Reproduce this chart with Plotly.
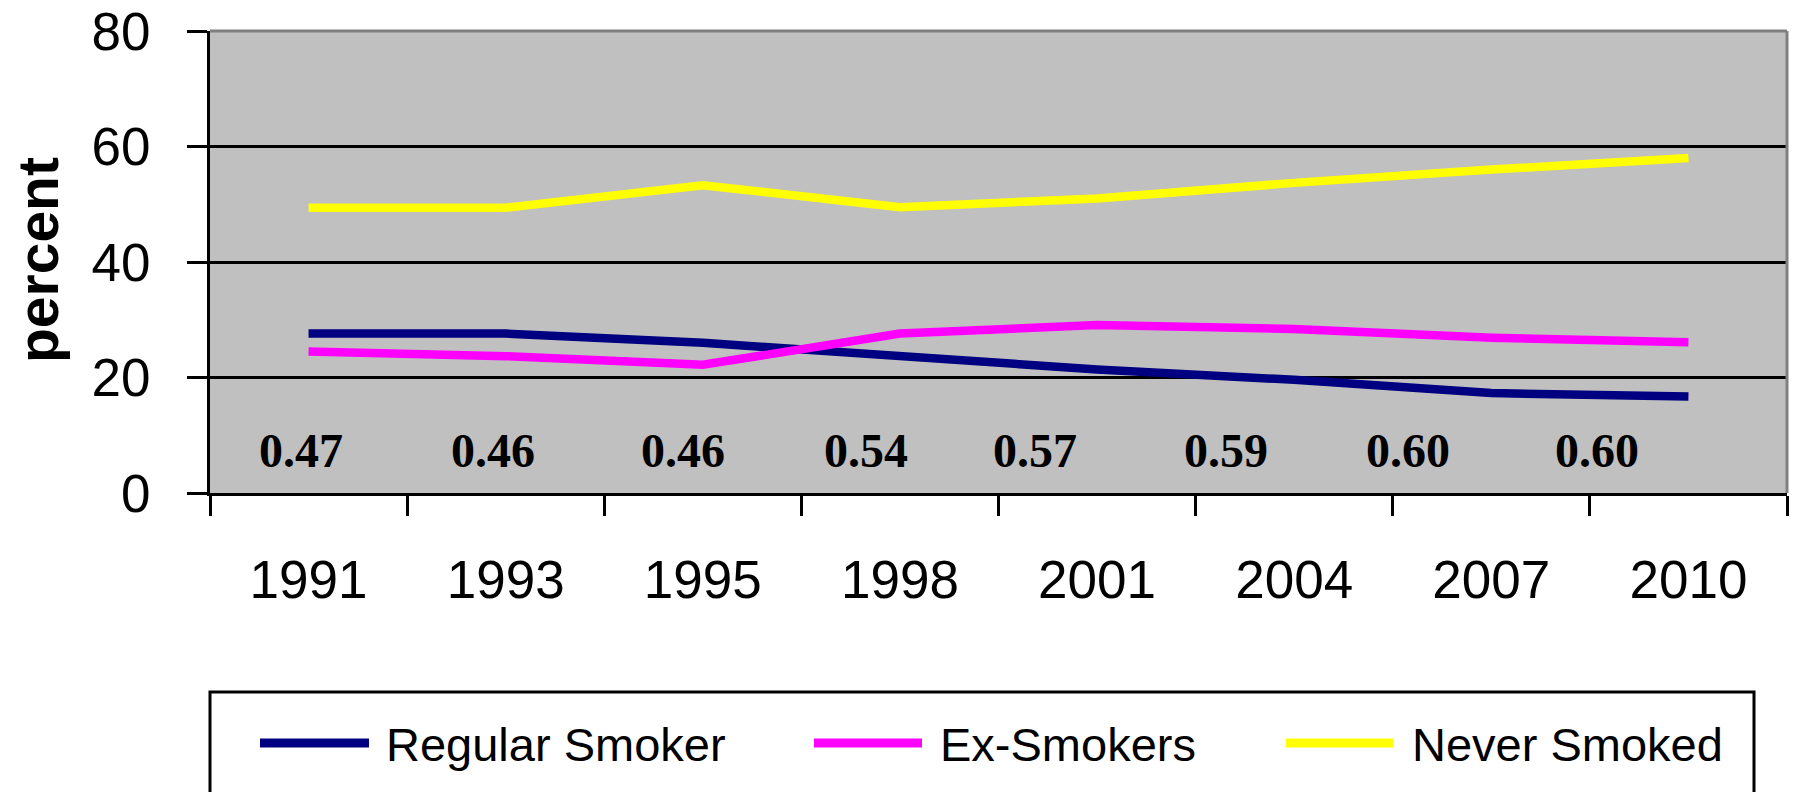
import plotly.graph_objects as go

# Survey years and smoking-status shares (percent)
years = ["1991", "1993", "1995", "1998", "2001", "2004", "2007", "2010"]
regular_smoker = [27.6, 27.6, 26.0, 23.7, 21.4, 19.6, 17.3, 16.7]
ex_smokers = [24.5, 23.7, 22.2, 27.6, 29.1, 28.4, 26.9, 26.1]
never_smoked = [49.4, 49.4, 53.3, 49.5, 51.0, 53.7, 56.0, 58.0]

# Ratio values printed along the bottom of the plot
ratio_values = [0.47, 0.46, 0.46, 0.54, 0.57, 0.59, 0.60, 0.60]
ratio_x = [-0.04, 0.935, 1.90, 2.83, 3.685, 4.655, 5.575, 6.535]

series = [
    ("Regular Smoker", regular_smoker, "#000080"),
    ("Ex-Smokers", ex_smokers, "#FF00FF"),
    ("Never Smoked", never_smoked, "#FFFF00"),
]

W, H = 1795, 792
ML, MR, MT, MB = 210, 8, 31, 299
PW, PH = W - ML - MR, H - MT - MB


def px_x(px):
    return (px - ML) / PW


def px_y(py):
    return (H - MB - py) / PH


fig = go.Figure()
for name, vals, color in series:
    fig.add_trace(go.Scatter(
        x=years, y=vals, name=name, mode="lines",
        line=dict(color=color, width=8.5),
        showlegend=False,
    ))

annotations = []
for xv, v in zip(ratio_x, ratio_values):
    annotations.append(dict(
        x=xv, y=7.3, xref="x", yref="y", text=f"{v:.2f}", showarrow=False,
        xanchor="center", yanchor="middle",
        font=dict(family="Liberation Serif", size=48, color="black", weight="bold"),
    ))

annotations.append(dict(
    x=px_x(38), y=px_y(260), xref="paper", yref="paper", text="<b>percent</b>",
    textangle=-90, showarrow=False, xanchor="center", yanchor="middle",
    font=dict(family="Liberation Sans", size=57, color="black"),
))

shapes = [
    # plot-area frame on the top and right edges
    dict(type="line", xref="paper", yref="paper", x0=0, x1=1, y0=1, y1=1,
         line=dict(color="#808080", width=3), layer="above"),
    dict(type="line", xref="paper", yref="paper", x0=1, x1=1, y0=0, y1=1,
         line=dict(color="#808080", width=3), layer="above"),
    # legend box
    dict(type="rect", xref="paper", yref="paper",
         x0=px_x(210), x1=px_x(1754), y0=px_y(692), y1=px_y(810),
         line=dict(color="black", width=3), fillcolor="white"),
]

# legend entries: sample line + label
legend_items = [(260, 369, 384), (814, 922, 938), (1286, 1393, 1410)]
for (name, _, color), (lx0, lx1, tx) in zip(series, legend_items):
    shapes.append(dict(type="line", xref="paper", yref="paper",
                       x0=px_x(lx0), x1=px_x(lx1), y0=px_y(743), y1=px_y(743),
                       line=dict(color=color, width=9)))
    annotations.append(dict(
        x=px_x(tx), y=px_y(744), xref="paper", yref="paper", text=name,
        showarrow=False, xanchor="left", yanchor="middle",
        font=dict(family="Liberation Sans", size=47, color="black"),
    ))

fig.update_layout(
    width=W, height=H,
    margin=dict(l=ML, r=MR, t=MT, b=MB, pad=0, autoexpand=False),
    paper_bgcolor="white",
    plot_bgcolor="#C0C0C0",
    font=dict(family="Liberation Sans", size=53, color="black"),
    annotations=annotations,
    shapes=shapes,
)
fig.update_xaxes(
    type="category", range=[-0.5, 7.5], tickson="boundaries", automargin=False,
    showline=True, linecolor="black", linewidth=3,
    ticks="outside", ticklen=20, tickwidth=3, tickcolor="black",
    showgrid=False, ticklabelstandoff=38,
    tickfont=dict(family="Liberation Sans", size=53, color="black"),
)
fig.update_yaxes(
    range=[0, 80], tickvals=[0, 20, 40, 60, 80], automargin=False,
    showline=True, linecolor="black", linewidth=3,
    ticks="outside", ticklen=20, tickwidth=3, tickcolor="black",
    showgrid=True, gridcolor="black", gridwidth=3, zeroline=False,
    ticklabelstandoff=26,
    tickfont=dict(family="Liberation Sans", size=53, color="black"),
)

fig.write_html("out.html")
